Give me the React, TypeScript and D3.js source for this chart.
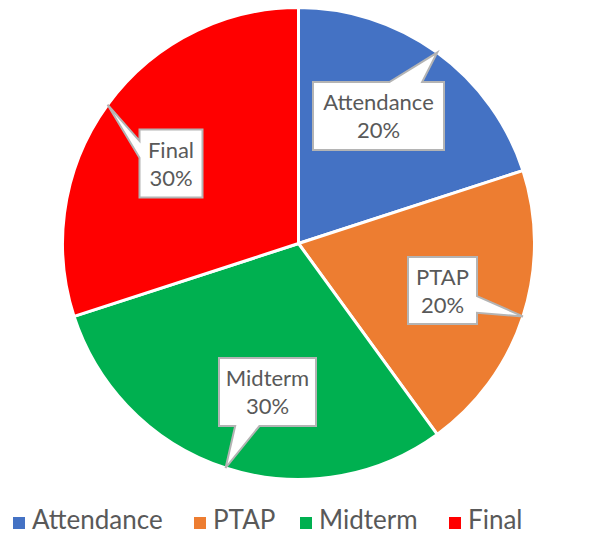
import React from "react";
import * as d3 from "d3";

const categories = ["Attendance", "PTAP", "Midterm", "Final"];
const values = [20, 20, 30, 30];
const colors = ["#4472C4", "#ED7D31", "#00B050", "#FF0000"];

// layout
const W = 603, H = 535;
const CX = 298.5, CY = 243.5, R = 236;
const labelCenters = [[80, -127.5], [144, 47], [-31, 148.5], [-127.5, -80]];
const boxSizes = [[131, 68], [69, 67], [97, 68], [63, 68]];
const FONT = "Lato, 'Open Sans', sans-serif";
const legendX = [12, 193, 299, 448];

function calloutPath(cx: number, cy: number, w: number, h: number, tx: number, ty: number) {
  const l = cx - w / 2, t = cy - h / 2, r = cx + w / 2, b = cy + h / 2;
  const dx = tx - cx, dy = ty - cy;
  const pts: [number, number][] = [];
  if (Math.abs(dy) / h >= Math.abs(dx) / w) {
    const f = dx > 0 ? [7 / 12, 10 / 12] : [2 / 12, 5 / 12];
    if (dy < 0) {
      pts.push([l, t], [l + w * f[0], t], [tx, ty], [l + w * f[1], t], [r, t], [r, b], [l, b]);
    } else {
      pts.push([l, t], [r, t], [r, b], [l + w * f[1], b], [tx, ty], [l + w * f[0], b], [l, b]);
    }
  } else {
    const f = dy > 0 ? [7 / 12, 10 / 12] : [2 / 12, 5 / 12];
    if (dx > 0) {
      pts.push([l, t], [r, t], [r, t + h * f[0]], [tx, ty], [r, t + h * f[1]], [r, b], [l, b]);
    } else {
      pts.push([l, t], [r, t], [r, b], [l, b], [l, t + h * f[1]], [tx, ty], [l, t + h * f[0]]);
    }
  }
  return "M" + pts.map((p) => p.join(",")).join("L") + "Z";
}

export default function App() {
  const total = d3.sum(values);
  const pie = d3.pie<number>().sort(null).value((d) => d);
  const arcs = pie(values);
  const arc = d3.arc<d3.PieArcDatum<number>>().innerRadius(0).outerRadius(R);
  const tipArc = d3.arc<d3.PieArcDatum<number>>().innerRadius(R).outerRadius(R);
  return (
    <svg width={W} height={H} style={{ position: "absolute", left: 0, top: 0, background: "#fff" }}>
      <g transform={`translate(${CX},${CY})`}>
        {arcs.map((a, i) => (
          <path key={i} d={arc(a) || ""} fill={colors[i]} stroke="#fff" strokeWidth={3} strokeLinejoin="round" />
        ))}
        {arcs.map((a, i) => {
          const mid = (a.startAngle + a.endAngle) / 2;
          const tx = R * Math.sin(mid), ty = -R * Math.cos(mid);
          const [bx, by] = labelCenters[i];
          const [bw, bh] = boxSizes[i];
          return (
            <g key={"l" + i}>
              <path d={calloutPath(bx, by, bw, bh, tx, ty)} fill="#fff" stroke="#b4b4b4" strokeWidth={2} strokeLinejoin="miter" />
              <text x={bx} y={by - 6} textAnchor="middle" fontFamily={FONT} fontSize={22} fill="#595959">
                {categories[i]}
              </text>
              <text x={bx} y={by + 22} textAnchor="middle" fontFamily={FONT} fontSize={22} fill="#595959">
                {d3.format(".0%")(values[i] / total)}
              </text>
            </g>
          );
        })}
      </g>
      <g>
        {categories.map((c, i) => (
          <g key={c} transform={`translate(${legendX[i]},0)`}>
            <rect x={1} y={517} width={12} height={12} fill={colors[i]} />
            <text x={20} y={529} fontFamily={FONT} fontSize={26} fill="#595959">{c}</text>
          </g>
        ))}
      </g>
    </svg>
  );
}
